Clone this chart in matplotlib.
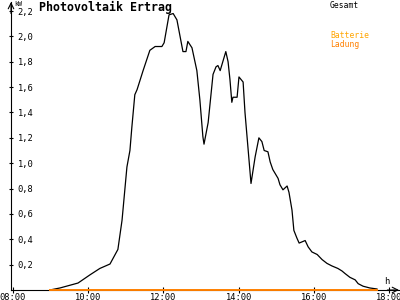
import matplotlib
matplotlib.use("Agg")
import matplotlib.pyplot as plt

# Gesamt (kW) over the day, hours as decimals
zeit = [8.98, 9.25, 9.73, 10.05, 10.31, 10.58, 10.79, 10.90, 11.03, 11.11,
        11.16, 11.24, 11.30, 11.46, 11.64, 11.78, 11.96, 12.02, 12.15, 12.26,
        12.36, 12.52, 12.60, 12.65, 12.76, 12.89, 12.97, 13.05, 13.08, 13.19,
        13.32, 13.40, 13.45, 13.51, 13.59, 13.66, 13.72, 13.77, 13.82, 13.85,
        13.96, 14.01, 14.12, 14.17, 14.25, 14.33, 14.44, 14.54, 14.62, 14.68,
        14.78, 14.84, 14.91, 15.05, 15.10, 15.18, 15.29, 15.34, 15.42, 15.47,
        15.55, 15.61, 15.69, 15.77, 15.85, 15.95, 16.09, 16.22, 16.35, 16.48,
        16.64, 16.75, 16.83, 16.96, 17.10, 17.18, 17.31, 17.49, 17.68]
gesamt = [0.00, 0.016, 0.055, 0.12, 0.17, 0.205, 0.32, 0.55, 0.97, 1.10,
          1.28, 1.54, 1.58, 1.73, 1.89, 1.92, 1.92, 1.95, 2.17, 2.18,
          2.13, 1.88, 1.88, 1.96, 1.91, 1.73, 1.50, 1.21, 1.15, 1.32,
          1.70, 1.76, 1.77, 1.73, 1.81, 1.88, 1.80, 1.66, 1.48, 1.52,
          1.52, 1.68, 1.64, 1.40, 1.12, 0.84, 1.05, 1.20, 1.17, 1.10,
          1.09, 1.01, 0.95, 0.88, 0.83, 0.79, 0.82, 0.77, 0.63, 0.47,
          0.41, 0.37, 0.38, 0.39, 0.34, 0.30, 0.28, 0.24, 0.21, 0.19,
          0.17, 0.15, 0.13, 0.10, 0.08, 0.05, 0.03, 0.016, 0.008]

# Batterie Ladung stays at zero
batterie_zeit = [8.98, 17.68]
batterie_kw = [0.0, 0.0]

x_ticks = [8, 10, 12, 14, 16, 18]
x_labels = ["08:00", "10:00", "12:00", "14:00", "16:00", "18:00"]
y_ticks = [0.2, 0.4, 0.6, 0.8, 1.0, 1.2, 1.4, 1.6, 1.8, 2.0, 2.2]
y_labels = ["0,2", "0,4", "0,6", "0,8", "1,0", "1,2", "1,4", "1,6", "1,8", "2,0", "2,2"]

MONO = "DejaVu Sans Mono"
ORANGE = "#ff8000"

fig = plt.figure(figsize=(4, 3), dpi=100)
ax = fig.add_axes([11 / 400, 10 / 300, 388 / 400, 288 / 300])
ax.set_xlim(7.947, 18.266)
ax.set_ylim(0, 2.271)

ax.plot(zeit, gesamt, color="black", lw=0.9, zorder=3)
ax.plot(batterie_zeit, batterie_kw, color=ORANGE, lw=1.4, zorder=4, clip_on=False)

for s in ("top", "right"):
    ax.spines[s].set_visible(False)
for s in ("left", "bottom"):
    ax.spines[s].set_linewidth(0.8)

ax.set_xticks(x_ticks)
ax.set_xticklabels(x_labels, fontsize=6.3, family=MONO)
ax.set_yticks(y_ticks)
ax.set_yticklabels(y_labels, fontsize=6.3, family=MONO, ha="left")
ax.tick_params(axis="x", direction="inout", length=5, width=0.8, pad=0)
ax.tick_params(axis="y", direction="inout", length=3.5, width=0.8, pad=-6.5)

# axis arrows
ax.annotate("", xy=(1.0, 0), xytext=(0.97, 0), xycoords="axes fraction",
            arrowprops=dict(arrowstyle="->", lw=0.8, color="black",
                            shrinkA=0, shrinkB=0))
ax.annotate("", xy=(0, 1.0), xytext=(0, 0.96), xycoords="axes fraction",
            arrowprops=dict(arrowstyle="->", lw=0.8, color="black",
                            shrinkA=0, shrinkB=0))

fig.text(14 / 400, 1 - 3.5 / 300, "kW", fontsize=4.8, family=MONO, va="center")
fig.text(384 / 400, 1 - 281 / 300, "h", fontsize=6.3, family=MONO, va="center")
fig.text(39 / 400, 1 - 7 / 300, "Photovoltaik Ertrag", fontsize=8.4,
         family=MONO, weight="bold", va="center")

fig.text(330 / 400, 1 - 5 / 300, "Gesamt", fontsize=5.8, family=MONO,
         color="black", va="center")
fig.text(330 / 400, 1 - 36 / 300, "Batterie", fontsize=5.8, family=MONO,
         color="#ffa500", va="center")
fig.text(330 / 400, 1 - 44 / 300, "Ladung", fontsize=5.8, family=MONO,
         color=ORANGE, va="center")

fig.savefig("out.png", dpi=100)
